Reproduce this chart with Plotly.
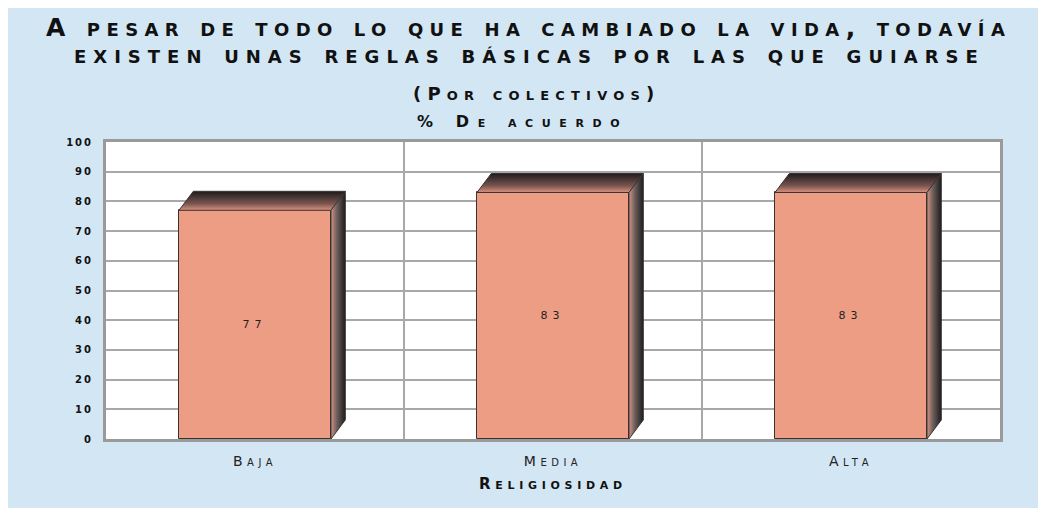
import plotly.graph_objects as go

categories = ["Baja", "Media", "Alta"]
values = [77, 83, 83]
y_ticks = [0, 10, 20, 30, 40, 50, 60, 70, 80, 90, 100]

title_1 = "A pesar de todo lo que ha cambiado la vida, todavía"
title_2 = "existen unas reglas básicas por las que guiarse"
subtitle_1 = "(Por colectivos)"
subtitle_2 = "% De acuerdo"
x_title = "Religiosidad"

BG = "#d3e6f4"
SALMON = "#ee9d85"
EDGE = "#3a3232"
GRID = "#a8a8a8"
FONT = "DejaVu Sans"

BAR_W = 0.51
DX = 0.048   # 3D depth, x data units
DY = 6.4     # 3D depth, y data units

# plot area in figure pixels (page body adds an 8px offset)
L, R, T, B = 98, 46, 134, 69
FIG_W, FIG_H = 1038, 500
PH = FIG_H - T - B


def sp(text, ls):
    return f'<span style="letter-spacing:{ls}px">{text}</span>'


def py(pix):
    """paper y from figure pixel row"""
    return (FIG_H - B - pix) / PH


xs = list(range(len(categories)))
fig = go.Figure()
fig.add_trace(go.Bar(
    x=xs, y=values, width=BAR_W,
    marker=dict(color=SALMON, line=dict(color=EDGE, width=1)),
    text=[sp(str(v), 5) for v in values],
    textposition="inside", insidetextanchor="middle",
    textfont=dict(family=FONT, size=11, color="#222222"),
    hoverinfo="skip", showlegend=False,
))

for i, v in enumerate(values):
    x0 = xs[i] - BAR_W / 2
    x1 = xs[i] + BAR_W / 2
    # top face
    fig.add_trace(go.Scatter(
        x=[x0, x1, x1 + DX, x0 + DX, x0],
        y=[v, v, v + DY, v + DY, v],
        mode="lines", fill="toself",
        fillgradient=dict(type="vertical",
                          colorscale=[[0, "#d8937f"], [0.35, "#7a5550"], [1, "#1e1c1c"]]),
        line=dict(color=EDGE, width=1),
        hoverinfo="skip", showlegend=False,
    ))
    # side face
    fig.add_trace(go.Scatter(
        x=[x1, x1 + DX, x1 + DX, x1, x1],
        y=[0, DY, v + DY, v, 0],
        mode="lines", fill="toself",
        fillgradient=dict(type="horizontal",
                          colorscale=[[0, "#d49482"], [0.4, "#6e605e"], [1, "#1e1c1c"]]),
        line=dict(color=EDGE, width=1),
        hoverinfo="skip", showlegend=False,
    ))

fig.update_layout(
    width=FIG_W, height=FIG_H,
    paper_bgcolor=BG, plot_bgcolor="white",
    margin=dict(l=L, r=R, t=T, b=B),
    showlegend=False,
    font=dict(family=FONT, color="#1a1a1a"),
    bargap=0,
)

fig.update_xaxes(
    range=[-0.5, 2.5],
    tickmode="array", tickvals=xs,
    ticktext=[sp(c, 4.5) for c in categories],
    tickfont=dict(family=FONT, size=14, variant="small-caps", color="#222222"),
    showgrid=False, zeroline=False,
    showline=True, linecolor="#9a9a9a", linewidth=3, mirror=True,
    ticks="", ticklabelstandoff=7,
    minor=dict(tickmode="array", tickvals=[0.5, 1.5], showgrid=True,
               gridcolor=GRID, gridwidth=1.5, ticks=""),
    title=dict(text=sp(x_title, 4.7), standoff=11,
               font=dict(family=FONT, size=15, weight="bold", variant="small-caps", color="#111111")),
)

fig.update_yaxes(
    range=[0, 100],
    tickmode="array", tickvals=y_ticks,
    ticktext=[sp(str(t), 2) for t in y_ticks],
    tickfont=dict(family=FONT, size=10, weight="bold", color="#111111"),
    showgrid=True, gridcolor=GRID, gridwidth=1.5,
    zeroline=False,
    showline=True, linecolor="#9a9a9a", linewidth=3, mirror=True,
    ticks="", ticklabelstandoff=8,
)

title_font = dict(family=FONT, size=25, weight="bold", variant="small-caps", color="#111111")
fig.add_annotation(
    xref="paper", yref="paper", x=0.473, y=py(20),
    text=sp(title_1, 6.4), showarrow=False, xanchor="center", yanchor="middle",
    font=title_font,
)
fig.add_annotation(
    xref="paper", yref="paper", x=0.474, y=py(47),
    text=sp(title_2, 7.0), showarrow=False, xanchor="center", yanchor="middle",
    font=title_font,
)
fig.add_annotation(
    xref="paper", yref="paper", x=0.482, y=py(85),
    text=sp(subtitle_1, 6.2),
    showarrow=False, xanchor="center", yanchor="middle",
    font=dict(family=FONT, size=18, weight="bold", variant="small-caps", color="#111111"),
)
fig.add_annotation(
    xref="paper", yref="paper", x=0.466, y=py(113),
    text=sp(subtitle_2, 8.6),
    showarrow=False, xanchor="center", yanchor="middle",
    font=dict(family=FONT, size=16, weight="bold", variant="small-caps", color="#111111"),
)

fig.write_html("out.html")
